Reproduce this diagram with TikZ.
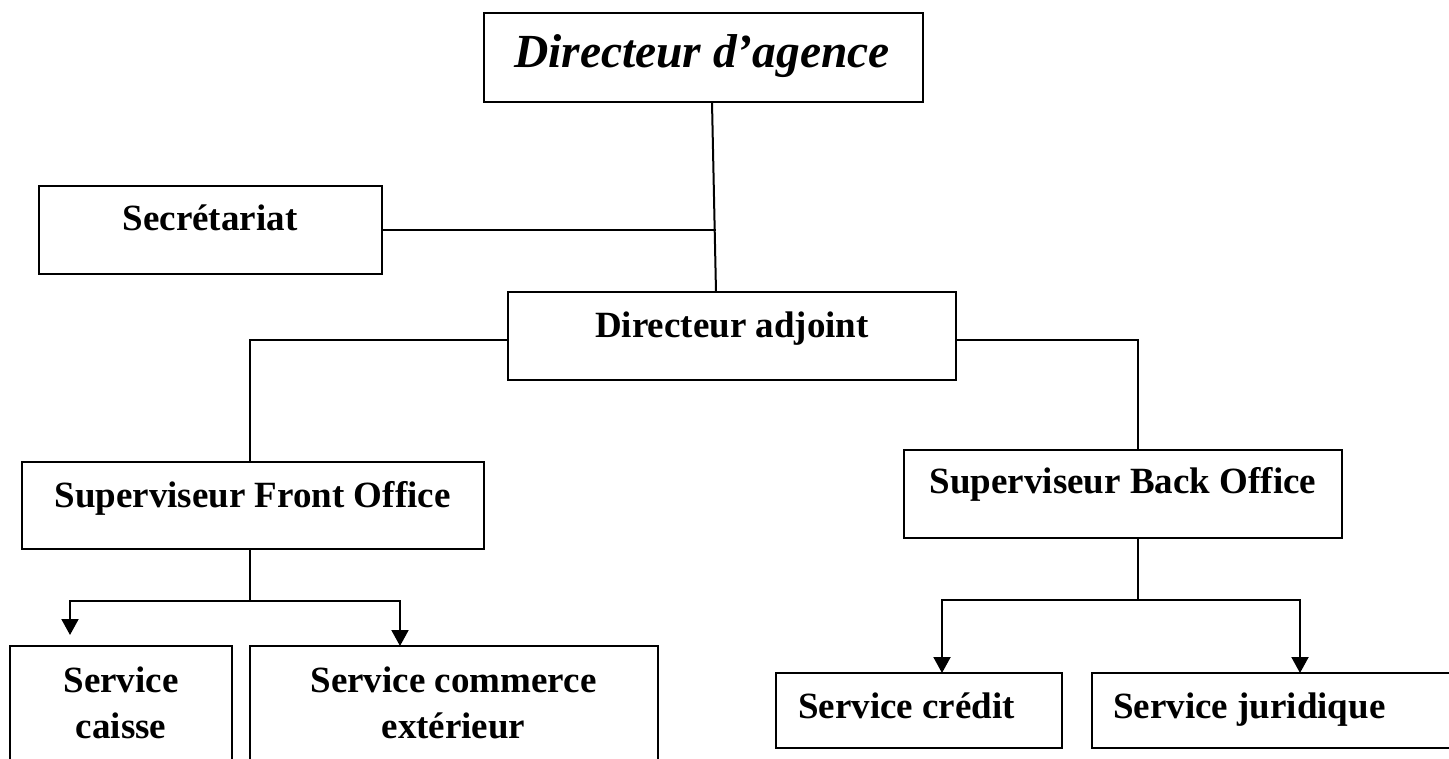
\documentclass[tikz,border=0pt]{standalone}
\usepackage{fontspec}
\setmainfont{Liberation Serif}
\usetikzlibrary{arrows.meta}
\begin{document}
\begin{tikzpicture}[x=1pt,y=-1pt,
  box/.style={draw, line width=2.3pt, inner sep=0pt, outer sep=0pt},
  lbl/.style={inner sep=0pt, anchor=base, align=center, font=\fontsize{37}{46}\selectfont\bfseries},
  lblw/.style={lbl, anchor=base west},
  conn/.style={line width=2pt},
  arr/.style={conn, -{Triangle[length=16pt,width=17pt]}}]
\useasboundingbox (0,0) rectangle (1449,758);
\clip (0,0) rectangle (1449,758);
\fill[white] (0,0) rectangle (1449,758);

% boxes
\node[box, minimum width=439pt, minimum height=89pt] (agence) at (703.5,57.5) {};
\node[box, minimum width=343pt, minimum height=88pt] (secr) at (210.5,230) {};
\node[box, minimum width=448pt, minimum height=88pt] (adjoint) at (732,336) {};
\node[box, minimum width=462pt, minimum height=87pt] (front) at (253,505.5) {};
\node[box, minimum width=438pt, minimum height=88pt] (back) at (1123,494) {};
\node[box, minimum width=222pt, minimum height=200pt] (caisse) at (121,746) {};
\node[box, minimum width=408pt, minimum height=200pt] (commerce) at (454,746) {};
\node[box, minimum width=286pt, minimum height=75pt] (credit) at (919,710.5) {};
\node[box, minimum width=378pt, minimum height=75pt] (juridique) at (1281,710.5) {};

% labels
\node[lbl, font=\fontsize{47.5}{57}\selectfont\bfseries\itshape] (tagence) at (702,67) {Directeur d’agence};
\node[lbl] (tsecr) at (210,230) {Secrétariat};
\node[lbl] (tadjoint) at (732,337) {Directeur adjoint};
\node[lbl] (tfront) at (252.5,507) {Superviseur Front Office};
\node[lbl] (tback) at (1123,493) {Superviseur Back Office};
\node[lbl] (tcaisse) at (121,738) {Service\\caisse};
\node[lbl] (tcommerce) at (453.5,738) {Service commerce\\extérieur};
\node[lblw] (tcredit) at (798,718) {Service crédit};
\node[lblw] (tjuridique) at (1113,718) {Service juridique};

% connectors
\draw[conn] ([xshift=8.5pt]agence.south) -- ([xshift=-16pt]adjoint.north);
\draw[conn] (secr.east) -- ++(334,0);
\draw[conn] ([yshift=-4pt]adjoint.west) -| ([xshift=-3pt]front.north);
\draw[conn] ([yshift=-4pt]adjoint.east) -| ([xshift=15pt]back.north);
\draw[conn] ([xshift=-3pt]front.south) -- ++(0,52) coordinate (fj);
\draw[arr] (fj) -| ([xshift=-51pt,yshift=11pt]caisse.north);
\draw[arr] (fj) -| ([xshift=-54pt]commerce.north);
\draw[conn] ([xshift=15pt]back.south) -- ++(0,62) coordinate (bj);
\draw[arr] (bj) -| ([xshift=23pt]credit.north);
\draw[arr] (bj) -| ([xshift=19pt]juridique.north);
\end{tikzpicture}
\end{document}
